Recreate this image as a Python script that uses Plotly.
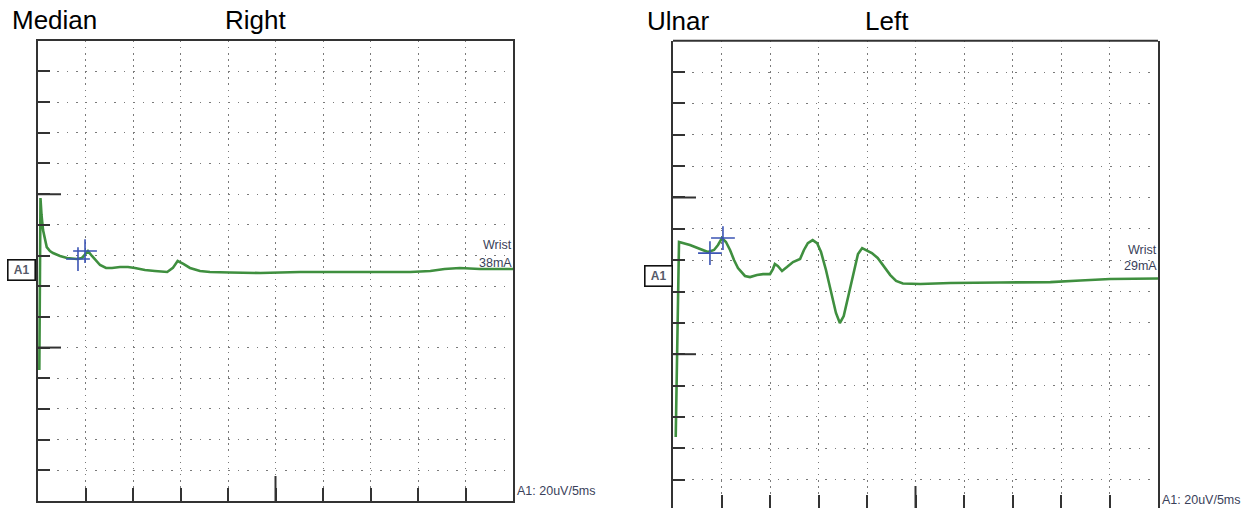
import plotly.graph_objects as go

W, H = 1253, 508

# ---- data (x: ms, y: uV) ----
median_x = [0.14, 0.26, 0.37, 0.53, 0.92, 1.26, 1.58, 2.32, 3.05, 4.1, 4.63, 5.05, 5.26, 5.68,
            6.53, 7.16, 7.79, 8.63, 9.47, 10.2, 11.26, 12.3, 13.6, 14.2, 14.7, 15.3, 16.0,
            17.05, 18.1, 20.2, 23.4, 27.6, 31.8, 36.0, 39.2, 41.3, 42.8, 44.4, 46.5, 50.0]
median_y = [-64.6, 47.5, 36.4, 26.6, 15.5, 12.9, 11.6, 9.7, 8.4, 7.7, 8.4, 11.6, 12.9, 9.7,
            3.8, 1.9, 1.9, 2.5, 2.5, 1.9, 0.55, -0.1, -0.75, 1.9, 6.4, 4.5, 1.9,
            -0.1, -0.75, -1.1, -1.4, -0.75, -0.75, -1.1, -0.75, -0.1, 1.2, 1.9, 1.2, 1.2]
median_cursor_x = [4.21, 4.95]
median_cursor_y = [7.7, 12.9]

ulnar_x = [0.28, 0.62, 1.75, 2.78, 3.6, 4.23, 4.64, 5.05, 5.46, 5.88, 6.29, 6.7, 7.42, 7.94,
           8.66, 9.28, 10.0, 10.3, 10.5, 10.8, 11.24, 11.75, 12.37, 13.1, 13.5, 13.9, 14.4,
           14.85, 15.26, 15.77, 16.3, 16.8, 17.2, 17.6, 18.1, 18.66, 19.07, 19.5, 19.9, 20.5,
           21.1, 21.75, 22.4, 23.0, 23.7, 25.5, 28.6, 33.7, 38.9, 42.0, 45.05, 50.0]
ulnar_y = [-102.8, 21.6, 19.7, 17.1, 15.2, 16.5, 19.7, 24.1, 21.6, 16.5, 10.1, 5.0, -0.1, -0.8,
           0.5, 1.1, 1.1, 4.3, 7.5, 6.3, 3.1, 5.6, 8.8, 10.7, 16.5, 20.9, 22.8,
           20.9, 15.2, 3.7, -10.3, -23.7, -30.1, -25.7, -12.2, 3.7, 13.9, 17.7, 16.5, 14.5,
           11.4, 6.3, 0.5, -3.3, -4.9, -5.2, -4.6, -4.3, -4.0, -3.0, -2.0, -1.7]
ulnar_cursor_x = [3.81, 5.15]
ulnar_cursor_y = [14.5, 24.1]

titles_left = ["Median", "Right"]
titles_right = ["Ulnar", "Left"]
stim_left = ["Wrist", "38mA"]
stim_right = ["Wrist", "29mA"]
scale_text = "A1: 20uV/5ms"
channel = "A1"

# ---- styling ----
GREEN = "#3f8f3f"
BLUE = "#3b54b4"
AX = "#333333"
GRID = "#7a7a7a"
TXT = "#3a3f5a"
FONT = "Liberation Sans, Arial, sans-serif"

def px(v):
    return v / W

def py(v):
    return 1 - v / H

fig = go.Figure()
fig.add_trace(go.Scatter(x=median_x, y=median_y, mode="lines",
                         line=dict(color=GREEN, width=2.6), xaxis="x", yaxis="y",
                         showlegend=False, hoverinfo="skip"))
fig.add_trace(go.Scatter(x=median_cursor_x, y=median_cursor_y, mode="markers",
                         marker=dict(symbol="cross-thin", size=17, line=dict(color=BLUE, width=1.6)),
                         xaxis="x", yaxis="y", showlegend=False, hoverinfo="skip"))
fig.add_trace(go.Scatter(x=ulnar_x, y=ulnar_y, mode="lines",
                         line=dict(color=GREEN, width=2.6), xaxis="x2", yaxis="y2",
                         showlegend=False, hoverinfo="skip"))
fig.add_trace(go.Scatter(x=ulnar_cursor_x, y=ulnar_cursor_y, mode="markers",
                         marker=dict(symbol="cross-thin", size=17, line=dict(color=BLUE, width=1.6)),
                         xaxis="x2", yaxis="y2", showlegend=False, hoverinfo="skip"))

right_bottom = 150 - (H - 40.7) / 31.35 * 20

xcommon = dict(range=[0, 50], dtick=5, tick0=0, showticklabels=False, ticks="inside",
               ticklen=13, tickwidth=2, tickcolor=AX, showgrid=True, gridcolor=GRID,
               gridwidth=1.2, griddash="1.6px,4.5px", zeroline=False, fixedrange=True)
ycommon = dict(dtick=20, tick0=-150, showticklabels=False, ticks="inside",
               ticklen=12, tickwidth=2, tickcolor=AX, showgrid=True, gridcolor=GRID,
               gridwidth=1.4, griddash="1.8px,7.7px", zeroline=False, fixedrange=True)

fig.update_layout(
    width=W, height=H, margin=dict(l=0, r=0, t=0, b=0),
    paper_bgcolor="white", plot_bgcolor="white",
    xaxis=dict(domain=[px(38), px(513)], anchor="y", showline=True, mirror=True,
               linecolor=AX, linewidth=2, **xcommon),
    yaxis=dict(domain=[py(501), py(40.7)], anchor="x", range=[-150, 150], showline=True,
               mirror=True, linecolor=AX, linewidth=2, **ycommon),
    xaxis2=dict(domain=[px(673), px(1158)], anchor="y2", showline=False, **xcommon),
    yaxis2=dict(domain=[0, py(40.7)], anchor="x2", range=[right_bottom, 150], showline=True,
                mirror=True, linecolor=AX, linewidth=2, **ycommon),
)

shapes = []
# top border of right panel
shapes.append(dict(type="line", xref="x2 domain", yref="y2 domain", x0=0, x1=1, y0=1, y1=1,
                   line=dict(color=AX, width=2)))
# long ticks (every 5th division)
for (xr, yr, ybot, divpx_x, divpx_y) in [("x", "y", -150, 9.5, 30.7 / 20),
                                         ("x2", "y2", right_bottom, 9.7, 31.35 / 20)]:
    for yv in [50, -50]:
        shapes.append(dict(type="line", xref=xr, yref=yr, x0=0, x1=23 / divpx_x, y0=yv, y1=yv,
                           line=dict(color=AX, width=2)))
    shapes.append(dict(type="line", xref=xr, yref=yr, x0=25, x1=25, y0=ybot,
                       y1=ybot + (25 if xr == "x" else 22) / divpx_y,
                       line=dict(color=AX, width=2)))
fig.update_layout(shapes=shapes)

ann = []
def text(s, x, y, size, xanchor="left", color="black", **kw):
    ann.append(dict(text=s, x=px(x), y=py(y), xref="paper", yref="paper", showarrow=False,
                    xanchor=xanchor, yanchor="middle",
                    font=dict(size=size, color=color, family=FONT), **kw))

text(titles_left[0], 10, 20, 26)
text(titles_left[1], 223, 20, 26)
text(titles_right[0], 645, 21, 26)
text(titles_right[1], 863, 21, 26)

text(stim_left[0], 514, 245, 12.5, xanchor="right", color=TXT)
text(stim_left[1], 514, 262.5, 12.5, xanchor="right", color=TXT)
text(stim_right[0], 1159, 249.5, 12.5, xanchor="right", color=TXT)
text(stim_right[1], 1159, 266, 12.5, xanchor="right", color=TXT)

text(scale_text, 515, 491, 12.5, color=TXT)
text(scale_text, 1160, 500, 12.5, color=TXT)

for (cx, cy) in [(21.5, 269.5), (658, 276)]:
    ann.append(dict(text="<b>" + channel + "</b>", x=px(cx), y=py(cy), xref="paper", yref="paper",
                    showarrow=False, xanchor="center", yanchor="middle",
                    font=dict(size=12, color="#555a6a", family=FONT),
                    bordercolor="#111111", borderwidth=1.6, borderpad=2, bgcolor="white",
                    width=22, height=15))
fig.update_layout(annotations=ann)

fig.write_html("out.html")
